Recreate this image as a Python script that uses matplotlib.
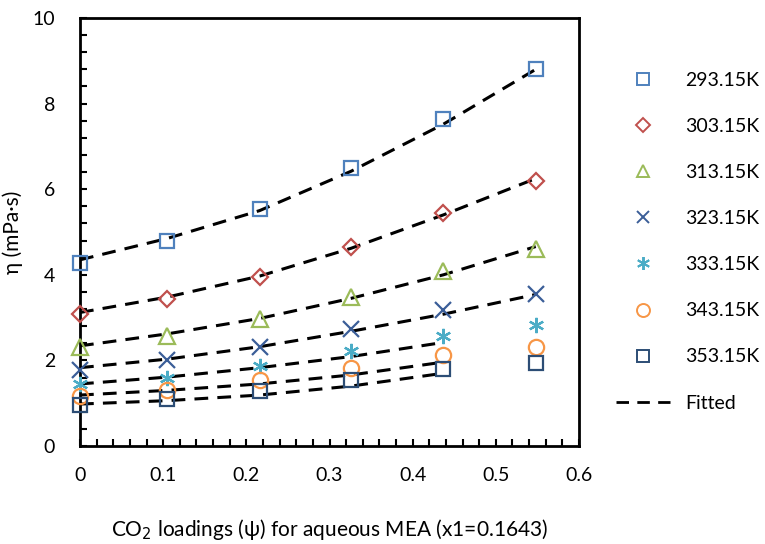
import matplotlib
matplotlib.use("Agg")
import matplotlib.pyplot as plt
from matplotlib.ticker import MultipleLocator, FuncFormatter
from matplotlib.lines import Line2D

plt.rcParams['font.family'] = ['Lato', 'DejaVu Sans']

loadings = [0, 0.105, 0.216, 0.326, 0.437, 0.548]
temps = ["293.15K", "303.15K", "313.15K", "323.15K", "333.15K", "343.15K", "353.15K"]
eta_293 = [4.28, 4.80, 5.53, 6.50, 7.63, 8.81]
eta_303 = [3.08, 3.43, 3.96, 4.66, 5.44, 6.20]
eta_313 = [2.31, 2.58, 2.97, 3.49, 4.09, 4.60]
eta_323 = [1.78, 2.00, 2.32, 2.73, 3.18, 3.55]
eta_333 = [1.46, 1.60, 1.88, 2.22, 2.57, 2.83]
eta_343 = [1.17, 1.31, 1.54, 1.83, 2.13, 2.32]
eta_353 = [0.96, 1.09, 1.29, 1.54, 1.80, 1.93]

fit_293 = [4.35, 4.85, 5.50, 6.42, 7.52, 8.80]
fit_303 = [3.12, 3.48, 3.97, 4.62, 5.40, 6.25]
fit_313 = [2.34, 2.62, 2.98, 3.45, 4.00, 4.66]
fit_323 = [1.83, 2.03, 2.32, 2.68, 3.08, 3.54]
fit_333 = [1.45, 1.61, 1.83, 2.09, 2.42]
fit_343 = [1.19, 1.30, 1.45, 1.66, 1.96]
fit_353 = [0.98, 1.06, 1.19, 1.40, 1.70]

series = [eta_293, eta_303, eta_313, eta_323, eta_333, eta_343, eta_353]
fits = [fit_293, fit_303, fit_313, fit_323, fit_333, fit_343, fit_353]
colors = ["#4F81BD", "#C0504D", "#9BBB59", "#3B5E98", "#4BACC6", "#F79646", "#2C4D75"]
markers = ["s", "D", "^", "x", (6, 2, 0), "o", "s"]
msizes = [10.5, 8.5, 11, 11, 11, 11, 10.5]
dash = (0, (4.5, 3))

fig = plt.figure(figsize=(7.65, 5.44), dpi=100)
ax = fig.add_axes([80/765, 1-446/544, (579-80)/765, (446-18)/544])

for f in fits:
    ax.plot(loadings[:len(f)], f, linestyle=dash, color="black", lw=2.2, zorder=3)
for y, c, m, ms in zip(series, colors, markers, msizes):
    ax.plot(loadings, y, linestyle="none", marker=m, ms=ms, mfc="none",
            mec=c, mew=1.6, zorder=4, clip_on=False)

ax.set_xlim(0, 0.6)
ax.set_ylim(0, 10)
ax.xaxis.set_major_locator(MultipleLocator(0.1))
ax.xaxis.set_minor_locator(MultipleLocator(0.02))
ax.yaxis.set_major_locator(MultipleLocator(2))
ax.yaxis.set_minor_locator(MultipleLocator(0.4))
ax.tick_params(which="both", direction="in", width=1.5, length=5, labelsize=14)
ax.tick_params(axis="x", which="major", pad=15)
ax.tick_params(axis="y", which="major", pad=18)
ax.xaxis.set_major_formatter(FuncFormatter(lambda v, p: "0" if abs(v) < 1e-9 else f"{v:.1f}"))
for s in ax.spines.values():
    s.set_linewidth(2)

ax.set_xlabel("CO$_2$ loadings (ψ) for aqueous MEA (x1=0.1643)", fontsize=15, labelpad=24)
ax.set_ylabel("η (mPa·s)", fontsize=15)
ax.yaxis.set_label_coords(-57/499, 0.5)

handles = []
for c, m, ms, t in zip(colors, markers, msizes, temps):
    handles.append(Line2D([], [], linestyle="none", marker=m, ms=ms * 0.85,
                          mfc="none", mec=c, mew=1.4, label=t))
handles.append(Line2D([], [], linestyle=dash, color="black", lw=2, label="Fitted"))
fig.legend(handles=handles, loc="upper left", bbox_to_anchor=(598/765, 1-54/544),
           frameon=False, fontsize=14, labelspacing=1.5, handlelength=2.8, handletextpad=0.8)

fig.savefig("out.png", dpi=100)
